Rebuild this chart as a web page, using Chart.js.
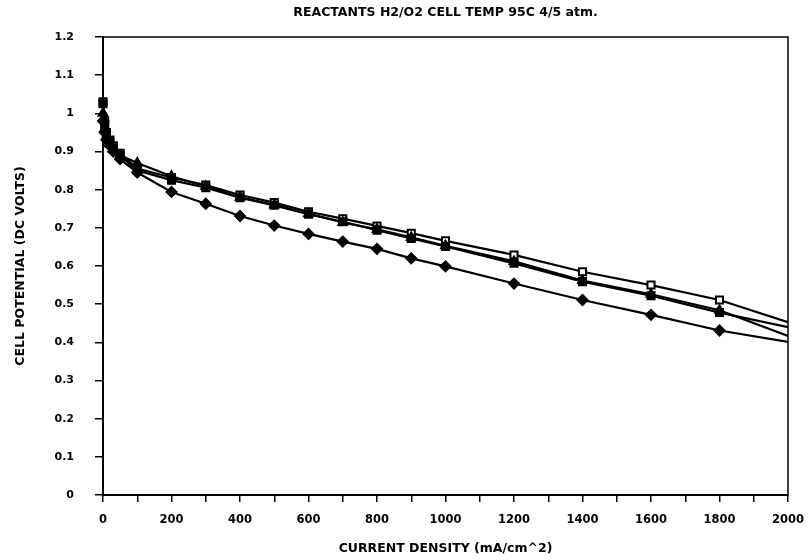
<!DOCTYPE html>
<html>
<head>
<meta charset="utf-8">
<script src="https://cdn.jsdelivr.net/npm/chart.js@4.4.1/dist/chart.umd.min.js"></script>
<style>
  html, body { margin: 0; padding: 0; background: #fff; }
  #wrap { width: 809px; height: 560px; }
</style>
</head>
<body>
<div id="wrap"><canvas id="cellChart" width="809" height="560"></canvas></div>
<script>
// current density (mA/cm^2) where readings were taken
const currentDensity = [0, 5, 10, 20, 30, 50, 100, 200, 300, 400, 500, 600, 700, 800, 900, 1000, 1200, 1400, 1600, 1800, 2000];

// cell potential (V) for each run
const runDiamond = [0.98, 0.95, 0.93, 0.915, 0.90, 0.88, 0.845, 0.794, 0.763, 0.731, 0.706, 0.684, 0.664, 0.645, 0.620, 0.599, 0.554, 0.511, 0.472, 0.431, 0.401];
const runOpenSquare = [1.03, 0.98, 0.95, 0.93, 0.915, 0.895, 0.855, 0.832, 0.812, 0.786, 0.766, 0.742, 0.724, 0.705, 0.686, 0.666, 0.629, 0.585, 0.550, 0.511, 0.453];
const runTriangle = [1.0, 0.96, 0.94, 0.92, 0.905, 0.89, 0.87, 0.835, 0.808, 0.780, 0.760, 0.737, 0.714, 0.696, 0.675, 0.653, 0.612, 0.562, 0.526, 0.484, 0.417];
const runFilledSquare = [1.025, 0.97, 0.945, 0.925, 0.91, 0.89, 0.85, 0.825, 0.805, 0.779, 0.759, 0.736, 0.716, 0.694, 0.672, 0.651, 0.607, 0.559, 0.522, 0.478, 0.440];

const titleText = "REACTANTS H2/O2 CELL TEMP 95C 4/5 atm.";
const xTitle = "CURRENT DENSITY (mA/cm^2)";
const yTitle = "CELL POTENTIAL (DC VOLTS)";

const FONT = "'DejaVu Sans', 'Liberation Sans', sans-serif";

function toPoints(values) {
    return values.map((v, i) => ({ x: currentDensity[i], y: v }));
}

// last reading sits on the right frame, no marker drawn there
const radii = currentDensity.map((x) => (x >= 2000 ? 0 : 5));

function makeSet(label, values, style, fill) {
    return {
        label: label,
        data: toPoints(values),
        borderColor: "#000",
        backgroundColor: fill,
        borderWidth: 2.2,
        pointStyle: style,
        pointRadius: radii,
        pointBorderWidth: 2,
        pointBorderColor: "#000",
        pointBackgroundColor: fill,
        tension: 0,
        clip: { left: 10, top: 10, right: 0, bottom: 10 },
    };
}

// box round the plot area; anything right of the frame inside the plot band is wiped
const frame = {
    id: "frame",
    afterDatasetsDraw(chart) {
        const a = chart.chartArea;
        const ctx = chart.ctx;
        ctx.save();
        ctx.fillStyle = "#fff";
        ctx.fillRect(a.right + 1, a.top - 2, chart.width - a.right, a.bottom - a.top - 2);
        ctx.strokeStyle = "#000";
        ctx.lineWidth = 1.5;
        ctx.strokeRect(a.left, a.top, a.right - a.left, a.bottom - a.top);
        ctx.restore();
    },
};

new Chart(document.getElementById("cellChart"), {
    type: "line",
    data: {
        datasets: [
            makeSet("run 1", runDiamond, "rectRot", "#000"),
            makeSet("run 2", runFilledSquare, "rect", "#000"),
            makeSet("run 3", runTriangle, "triangle", "#000"),
            makeSet("run 4", runOpenSquare, "rect", "#fff"),
        ],
    },
    plugins: [frame],
    options: {
        responsive: false,
        animation: false,
        layout: { padding: { top: 3, right: 21, left: 0, bottom: 0 } },
        plugins: {
            legend: { display: false },
            tooltip: { enabled: false },
            title: {
                display: true,
                fullSize: false,
                text: titleText,
                color: "#000",
                font: { family: FONT, size: 12.5, weight: "bold" },
                padding: { top: 2, bottom: 17 },
                align: "center",
            },
        },
        scales: {
            x: {
                type: "linear",
                min: 0,
                max: 2000,
                afterFit: (s) => {
                    s.height = 65;
                    s.paddingLeft = 0;
                    s.paddingRight = 0;
                },
                ticks: {
                    stepSize: 100,
                    autoSkip: false,
                    maxRotation: 0,
                    color: "#000",
                    padding: 11,
                    font: { family: FONT, size: 11.5, weight: "bold" },
                    callback: (v) => (v % 200 === 0 ? String(v) : ""),
                },
                grid: { drawOnChartArea: false, drawTicks: true, tickLength: 7, color: "#000", lineWidth: 1.5 },
                border: { color: "#000", width: 2 },
                title: {
                    display: true,
                    text: xTitle,
                    color: "#000",
                    font: { family: FONT, size: 12.5, weight: "bold" },
                    padding: { top: 6, bottom: 4 },
                },
            },
            y: {
                min: 0,
                max: 1.2,
                afterFit: (s) => { s.width = 103; },
                ticks: {
                    stepSize: 0.1,
                    autoSkip: false,
                    color: "#000",
                    padding: 21,
                    font: { family: FONT, size: 11, weight: "bold" },
                    callback: (v) => String(Math.round(v * 10) / 10),
                },
                grid: { drawOnChartArea: false, drawTicks: true, tickLength: 8, color: "#000", lineWidth: 1.5 },
                border: { color: "#000", width: 2 },
                title: {
                    display: true,
                    text: yTitle,
                    color: "#000",
                    font: { family: FONT, size: 12.5, weight: "bold" },
                    padding: { top: 13, bottom: 0 },
                },
            },
        },
    },
});
</script>
</body>
</html>
